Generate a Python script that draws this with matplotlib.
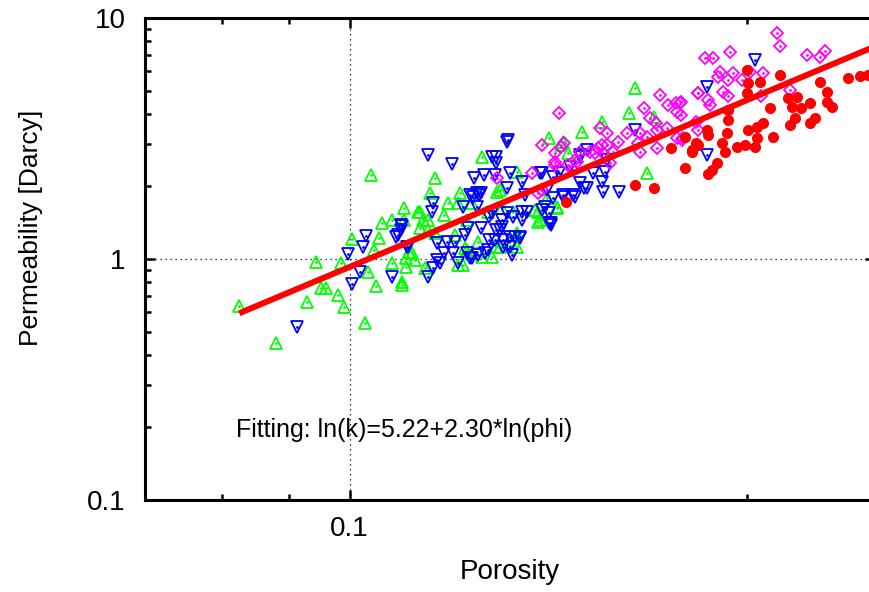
import numpy as np
import matplotlib

matplotlib.use("Agg")
import matplotlib.pyplot as plt
from matplotlib.ticker import LogLocator, NullFormatter, FixedLocator, FixedFormatter

plt.rcParams["font.family"] = ["Liberation Sans", "DejaVu Sans"]

# green up-triangles
green_phi = [0.1039, 0.1100, 0.1126, 0.1059, 0.1077, 0.1100, 0.1005, 0.1052, 0.1044,
             0.0944, 0.0986, 0.1032, 0.1077, 0.1103, 0.1048, 0.1096, 0.0952, 0.0959,
             0.0980, 0.0929, 0.0991, 0.0825, 0.1028, 0.0880,
             0.1260, 0.1160, 0.1150, 0.1212, 0.1187, 0.1208, 0.1294, 0.1340, 0.1130,
             0.1136, 0.1146, 0.1227, 0.1272, 0.1304, 0.1329, 0.1381, 0.1388, 0.1223,
             0.1116, 0.1103, 0.1120, 0.1140, 0.1219, 0.1096, 0.1260, 0.1292, 0.1338,
             0.1644, 0.1627, 0.1552, 0.1499, 0.1417, 0.1450, 0.1463, 0.1679, 0.1437,
             0.1412, 0.1700, 0.1299, 0.1388, 0.1437, 0.1281, 0.1322, 0.1180, 0.1201,
             0.1237, 0.1146, 0.1130, 0.1160, 0.1250, 0.1110, 0.1208, 0.1227, 0.1447,
             0.1393, 0.1338, 0.1299]
green_k = [2.23, 1.63, 1.57, 1.41, 1.45, 1.45, 1.21, 1.22, 1.09,
           0.97, 0.96, 0.88, 0.96, 0.93, 0.77, 0.78, 0.76, 0.76,
           0.71, 0.66, 0.63, 0.64, 0.54, 0.45,
           2.65, 2.17, 1.88, 1.88, 1.71, 1.71, 1.90, 2.30, 1.57,
           1.45, 1.32, 1.45, 1.57, 1.63, 1.57, 1.60, 1.42, 1.11,
           1.06, 1.01, 0.99, 0.92, 0.94, 0.80, 1.02, 1.12, 1.12,
           5.13, 4.03, 3.70, 3.36, 3.18, 3.06, 2.75, 2.27, 1.64,
           1.79, 3.88, 1.93, 1.57, 1.63, 1.02, 1.20, 1.52, 1.26,
           1.71, 1.45, 1.34, 1.28, 1.18, 1.07, 0.94, 1.09, 2.97,
           1.45, 1.28, 1.12]

# blue down-triangles
blue_phi = [0.1030, 0.1023, 0.0997, 0.1096, 0.1085, 0.1108, 0.1019, 0.1005, 0.1077, 0.0912,
            0.1146, 0.1195, 0.1315, 0.1243, 0.1264, 0.1290, 0.1292, 0.1322, 0.1350, 0.1393,
            0.1233, 0.1258, 0.1315, 0.1357, 0.1410, 0.1425, 0.1156, 0.1154, 0.1218, 0.1248,
            0.1276, 0.1304, 0.1329, 0.1362, 0.1398, 0.1422, 0.1094, 0.1094, 0.1106, 0.1164,
            0.1185, 0.1197, 0.1229, 0.1258, 0.1276, 0.1304, 0.1306, 0.1322, 0.1345, 0.1272,
            0.1227, 0.1250, 0.1233, 0.1322, 0.1327, 0.1208, 0.1170, 0.1156, 0.1146,
            0.1644, 0.1512, 0.1494, 0.1568, 0.1468, 0.1528, 0.1560, 0.1400, 0.1425, 0.1552,
            0.1494, 0.1512, 0.1476, 0.1555, 0.1601, 0.1450, 0.1405, 0.1417, 0.1417,
            0.2028, 0.1866, 0.1864, 0.1318, 0.1283, 0.1442, 0.1481, 0.1350, 0.1315, 0.1248,
            0.1299, 0.1334,
            0.1288, 0.1450, 0.1504, 0.1494, 0.1422, 0.1352, 0.1283, 0.1292, 0.1345, 0.1306,
            0.1288, 0.1088, 0.1223, 0.1201, 0.1180, 0.1164, 0.1254, 0.1240, 0.1266, 0.1237]
blue_k = [1.25, 1.12, 1.05, 1.37, 1.23, 1.12, 0.88, 0.79, 0.84, 0.52,
          2.70, 2.48, 3.06, 2.17, 2.23, 2.50, 2.65, 2.27, 2.09, 2.27,
          1.84, 1.88, 1.97, 1.84, 1.93, 1.79, 1.71, 1.57, 1.64, 1.64,
          1.49, 1.45, 1.49, 1.57, 1.60, 1.41, 1.38, 1.32, 1.12, 1.16,
          1.18, 1.06, 1.34, 1.34, 1.20, 1.36, 1.20, 1.23, 1.23, 1.09,
          1.06, 1.04, 1.01, 1.12, 1.04, 0.96, 0.96, 0.92, 0.84,
          3.43, 2.83, 2.70, 2.58, 2.41, 2.27, 2.30, 2.27, 2.19, 2.09,
          2.07, 1.97, 1.84, 1.90, 1.90, 1.84, 1.64, 1.55, 1.41,
          6.69, 5.18, 2.70, 3.12, 2.65, 2.27, 1.81, 1.57, 1.55, 1.88,
          1.32, 1.23,
          2.23, 1.81, 1.97, 2.65, 1.38, 1.45, 1.55, 1.32, 1.22, 1.12,
          1.20, 1.26, 1.26, 1.18, 1.06, 0.99, 1.84, 1.81, 1.06, 1.01]

# magenta diamonds
mag_phi = [0.1400, 0.1430, 0.1430, 0.1294, 0.1374,
           0.1717, 0.1442, 0.1836, 0.1671, 0.1744, 0.1766, 0.1778, 0.1771, 0.1688, 0.1705,
           0.1547, 0.1568, 0.1447, 0.1542, 0.1568, 0.1596, 0.1520, 0.1555, 0.1582, 0.1621,
           0.1659, 0.1679, 0.1709, 0.1739, 0.1653, 0.1659, 0.1709, 0.1771, 0.1786, 0.1430,
           0.1463, 0.1481, 0.1574, 0.1476, 0.1400,
           0.2107, 0.2118, 0.1941, 0.1858, 0.1884, 0.2220, 0.2271, 0.2291, 0.1907, 0.1900,
           0.1951, 0.1934, 0.1981, 0.2010, 0.2056, 0.1836, 0.1868, 0.1874, 0.1917, 0.1934,
           0.2049, 0.2155, 0.1784, 0.1784, 0.1829, 0.1836, 0.1789,
           0.1453, 0.1488, 0.1494, 0.1534, 0.1552, 0.1388]
mag_k = [2.97, 2.75, 2.45, 2.17, 2.27,
         4.81, 4.03, 4.89, 4.23, 4.36, 4.44, 4.44, 4.07, 3.84, 3.67,
         3.50, 3.33, 2.91, 2.89, 2.97, 3.06, 2.78, 2.75, 2.78, 3.33,
         3.33, 3.20, 3.43, 3.50, 3.03, 2.78, 2.89, 3.18, 3.12, 2.52,
         2.45, 2.58, 2.50, 2.34, 1.93,
         8.66, 7.65, 7.22, 6.82, 6.82, 7.03, 6.89, 7.29, 5.96, 5.68,
         5.90, 5.53, 5.53, 5.96, 5.90, 4.89, 4.57, 4.36, 4.93, 4.74,
         4.74, 5.03, 4.48, 3.96, 3.70, 3.43, 3.18,
         3.03, 2.52, 2.78, 2.75, 2.97, 1.88]

# red filled circles
red_phi = [0.1458, 0.1644, 0.1700, 0.1794, 0.1753, 0.1817, 0.1830, 0.1794,
           0.2000, 0.2003, 0.2045, 0.2118, 0.2384, 0.2435, 0.2470, 0.2271, 0.2299, 0.2000,
           0.2147, 0.2182, 0.2232, 0.2299, 0.2320, 0.2081, 0.2162, 0.2197, 0.1934, 0.1934,
           0.2056, 0.2035, 0.2003, 0.2155, 0.2174, 0.2251, 0.2232, 0.1864, 0.1868, 0.1931,
           0.2092, 0.2035, 0.2028, 0.1993, 0.1965, 0.1914, 0.1924, 0.1836, 0.1817, 0.1897,
           0.1880, 0.1868]
red_k = [1.72, 2.03, 1.97, 2.38, 2.89, 2.83, 3.03, 3.20,
         6.08, 5.36, 5.41, 5.80, 5.63, 5.74, 5.80, 5.41, 4.93, 4.89,
         4.66, 4.70, 4.44, 4.48, 4.27, 4.23, 4.27, 4.23, 4.15, 3.77,
         3.67, 3.53, 3.43, 3.60, 3.84, 3.84, 3.67, 3.43, 3.27, 3.33,
         3.20, 3.18, 2.91, 2.97, 2.91, 3.03, 2.78, 2.97, 2.78, 2.50,
         2.34, 2.25]

fit_a = 5.22
fit_b = 2.30
fit_range = (0.0825, 0.26)

fig = plt.figure(figsize=(8.7, 5.92), dpi=100)
ax = fig.add_axes([145 / 870, 92 / 592, 730 / 870, 482 / 592])

series = [
    (green_phi, green_k, "#00ff00", "^", 9),
    (blue_phi, blue_k, "#0000ff", "v", 9),
    (mag_phi, mag_k, "#ff00ff", "D", 6.5),
]
for xs, ys, col, mk, ms in series:
    ax.plot(xs, ys, linestyle="none", marker=mk, ms=ms, mfc="none", mec=col, mew=1.3)
    ax.plot(xs, ys, linestyle="none", marker=".", ms=2, color=col)
ax.plot(red_phi, red_k, linestyle="none", marker="o", ms=8, color="#ff0000", mew=0)

phi_fit = np.geomspace(*fit_range, 50)
ax.plot(phi_fit, np.exp(fit_a + fit_b * np.log(phi_fit)), color="#ff0000", lw=4.3,
        solid_capstyle="butt")

ax.set_xscale("log")
ax.set_yscale("log")
ax.set_xlim(0.07, 0.25)
ax.set_ylim(0.1, 10)

ax.xaxis.set_major_locator(FixedLocator([0.1]))
ax.xaxis.set_major_formatter(FixedFormatter(["0.1"]))
ax.xaxis.set_minor_locator(FixedLocator([0.08, 0.09, 0.2]))
ax.xaxis.set_minor_formatter(NullFormatter())
ax.yaxis.set_major_locator(FixedLocator([0.1, 1, 10]))
ax.yaxis.set_major_formatter(FixedFormatter(["0.1", "1", "10"]))
ax.yaxis.set_minor_locator(LogLocator(base=10, subs=np.arange(2, 10)))
ax.yaxis.set_minor_formatter(NullFormatter())

ax.tick_params(which="both", direction="in", top=True, right=True, width=1.8, color="black")
ax.tick_params(which="major", length=7, labelsize=20)
ax.tick_params(axis="x", which="major", pad=11.5)
ax.tick_params(axis="y", which="major", pad=14)
ax.tick_params(which="minor", length=4)
for sp in ax.spines.values():
    sp.set_linewidth(2.2)

ax.grid(True, which="major", color="black", linestyle=(0, (1, 3)), linewidth=0.9)

ax.set_xlabel("Porosity", fontsize=20)
ax.xaxis.set_label_coords(0.5, -0.122)
ax.set_ylabel("Permeability [Darcy]", fontsize=19)
ax.yaxis.set_label_coords(-0.14, 0.564)
ax.text(0.0821, 0.1826, "Fitting: ln(k)=5.22+2.30*ln(phi)", fontsize=18, va="baseline")

fig.savefig("out.png", dpi=100)
